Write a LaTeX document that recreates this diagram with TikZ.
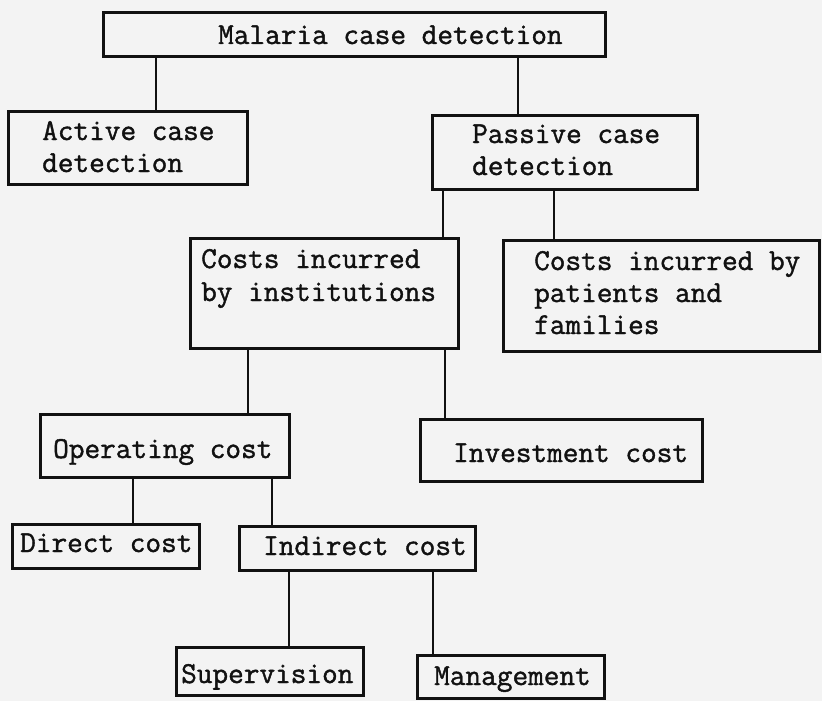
\documentclass[tikz,border=0pt]{standalone}
\usepackage{fontspec}
\newfontfamily\twfont{Latin Modern Mono}[FakeBold=1.3]
\definecolor{ink}{HTML}{111111}
\definecolor{paper}{HTML}{F3F3F3}
\tikzset{
  bx/.style={draw=ink, line width=3pt, rectangle, inner sep=0pt},
  lbl/.style={anchor=base west, inner sep=0pt, font=\twfont\fontsize{30.4}{32}\selectfont, text=ink},
  link/.style={draw=ink, line width=2.8pt}
}
\begin{document}
\begin{tikzpicture}[x=1pt,y=-1pt]
\fill[paper] (0,0) rectangle (822,701);
\useasboundingbox (0,0) rectangle (822,701);
% boxes
\node[bx, minimum width=502pt, minimum height=44pt] (top) at (354,35) {};
\node[bx, minimum width=239pt, minimum height=73pt] (act) at (127.5,147.5) {};
\node[bx, minimum width=265pt, minimum height=74pt] (pas) at (564.5,152) {};
\node[bx, minimum width=268pt, minimum height=110pt] (ins) at (324,293) {};
\node[bx, minimum width=316pt, minimum height=111pt] (pat) at (661,295.5) {};
\node[bx, minimum width=249pt, minimum height=63pt] (ope) at (164.5,445.5) {};
\node[bx, minimum width=282pt, minimum height=62pt] (inv) at (561,450) {};
\node[bx, minimum width=187pt, minimum height=44pt] (dir) at (105.5,546) {};
\node[bx, minimum width=236pt, minimum height=44pt] (ind) at (357,548) {};
\node[bx, minimum width=187pt, minimum height=48pt] (sup) at (269.5,671) {};
\node[bx, minimum width=187pt, minimum height=43pt] (man) at (510.5,676.5) {};
% texts
\node[lbl] (ttop) at (218,44) {Malaria case detection};
\node[lbl] (tact1) at (42,140) {Active case};
\node[lbl] (tact2) at (42,172) {detection};
\node[lbl] (tpas1) at (472,143) {Passive case};
\node[lbl] (tpas2) at (472,175) {detection};
\node[lbl] (tins1) at (201,268) {Costs incurred};
\node[lbl] (tins2) at (201,301) {by institutions};
\node[lbl] (tpat1) at (534,270) {Costs incurred by};
\node[lbl] (tpat2) at (534,302) {patients and};
\node[lbl] (tpat3) at (534,334) {families};
\node[lbl] (tope) at (53,458) {Operating cost};
\node[lbl] (tinv) at (453,462) {Investment cost};
\node[lbl] (tdir) at (20,552) {Direct cost};
\node[lbl] (tind) at (263,555) {Indirect cost};
\node[lbl] (tsup) at (181,683) {Supervision};
\node[lbl] (tman) at (434,685) {Management};
% connectors
\draw[link] (156,0 |- top.south) -- (156,0 |- act.north);
\draw[link] (518,0 |- top.south) -- (518,0 |- pas.north);
\draw[link] (443,0 |- pas.south) -- (443,0 |- ins.north);
\draw[link] (554,0 |- pas.south) -- (554,0 |- pat.north);
\draw[link] (248,0 |- ins.south) -- (248,0 |- ope.north);
\draw[link] (445,0 |- ins.south) -- (445,0 |- inv.north);
\draw[link] (133,0 |- ope.south) -- (133,0 |- dir.north);
\draw[link] (272,0 |- ope.south) -- (272,0 |- ind.north);
\draw[link] (289,0 |- ind.south) -- (289,0 |- sup.north);
\draw[link] (433,0 |- ind.south) -- (433,0 |- man.north);
\end{tikzpicture}
\end{document}
